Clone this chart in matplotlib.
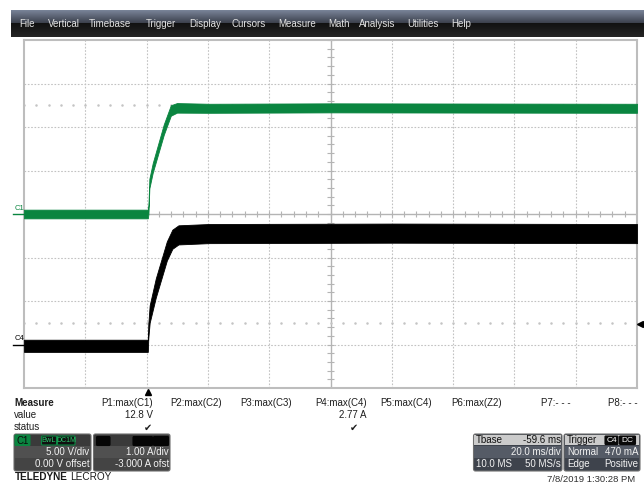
import matplotlib.pyplot as plt
import numpy as np
from matplotlib.patches import Rectangle, FancyBboxPatch

plt.rcParams['font.family'] = ['Liberation Sans', 'DejaVu Sans']

# timebase (ms): trigger at t = 0, screen centre at Tbase delay
t_div = 20.0
t_center = 59.6

# C1: centre of the noisy band (V) and its half width (V)
c1_t = [-40.4, 0.0, 0.2, 0.5, 1.6, 5.2, 7.5, 9.5, 20.0, 60.0, 159.6]
c1_v = [0.0, 0.0, 0.5, 3.5, 5.3, 9.7, 11.9, 12.2, 12.15, 12.2, 12.15]
c1_spread = [0.5, 0.5, 0.5, 0.55, 0.55, 0.6, 0.6, 0.55, 0.52, 0.52, 0.52]
c1_scale = 5.0     # V/div
c1_offset = 0.0    # V

# C4: current band (A) and half width (A)
c4_t = [-40.4, 0.0, 0.15, 0.6, 2.6, 6.2, 8.0, 10.0, 20.0, 80.0, 159.6]
c4_a = [-0.03, -0.03, 0.3, 0.7, 1.3, 2.15, 2.42, 2.52, 2.55, 2.56, 2.55]
c4_spread = [0.14, 0.14, 0.16, 0.2, 0.22, 0.22, 0.22, 0.22, 0.22, 0.22, 0.22]
c4_scale = 1.0     # A/div
c4_offset = -3.0   # A
trig_level = 0.47  # A

menu_items = ['File', 'Vertical', 'Timebase', 'Trigger', 'Display', 'Cursors',
              'Measure', 'Math', 'Analysis', 'Utilities', 'Help']
menu_x = [19, 48, 89, 146, 189, 232, 278, 328, 359, 407, 451]

meas_names = ['P1:max(C1)', 'P2:max(C2)', 'P3:max(C3)', 'P4:max(C4)',
              'P5:max(C4)', 'P6:max(Z2)', 'P7:- - -', 'P8:- - -']
meas_values = ['12.8 V', '', '', '2.77 A', '', '', '', '']
meas_ok = [True, False, False, True, False, False, False, False]
meas_right = [153, 222, 292, 367, 432, 502, 571, 638]
check_x = [148, 0, 0, 354, 0, 0, 0, 0]

W, H = 644, 482
fig = plt.figure(figsize=(W / 100, H / 100), dpi=100)
fig.patch.set_facecolor('white')

GREEN = '#0a8540'

# ---- scope grid ----
ax = fig.add_axes([24 / W, 1 - 388 / H, 613 / W, 348 / H])
ax.set_xlim(t_center - 5 * t_div, t_center + 5 * t_div)
ax.set_ylim(-4, 4)
ax.set_xticks([])
ax.set_yticks([])
for s in ax.spines.values():
    s.set_color('#bdbdbd')
    s.set_linewidth(1.5)

grid_kw = dict(color='#c2c2c2', lw=0.8, ls=(0, (1.5, 1.5)), zorder=1)
for k in range(-4, 5):
    if k != 0:
        ax.axvline(t_center + k * t_div, **grid_kw)
for k in range(-3, 4):
    if k != 0:
        ax.axhline(k, **grid_kw)
ax.axvline(t_center, color='#b4b4b4', lw=1.0, zorder=1)
ax.axhline(0, color='#b4b4b4', lw=1.0, zorder=1)

sub_t = t_center + np.arange(-25, 26) * t_div / 5
sub_y = np.arange(-20, 21) * 0.2
ax.vlines(sub_t, -0.07, 0.07, color='#b4b4b4', lw=0.8, zorder=1)
ax.hlines(sub_y, t_center - 1.0, t_center + 1.0, color='#b4b4b4', lw=0.8, zorder=1)
for yy in (2.5, -2.5):
    ax.plot(sub_t, np.full(len(sub_t), yy), ls='none', marker='s', ms=0.75,
            color='#c4c4c4', zorder=1)

# ---- traces ----
c1_pos = (np.array(c1_v) + c1_offset) / c1_scale
c1_hw = np.array(c1_spread) / c1_scale
ax.fill_between(c1_t, c1_pos - c1_hw, c1_pos + c1_hw, color=GREEN, lw=0.6,
                zorder=3)

c4_pos = (np.array(c4_a) + c4_offset) / c4_scale
c4_hw = np.array(c4_spread) / c4_scale
ax.fill_between(c4_t, c4_pos - c4_hw, c4_pos + c4_hw, color='black', lw=0.6,
                zorder=3)

# trigger markers
ax.plot([0], [-4.1], marker='^', ms=4.5, color='black', clip_on=False, zorder=5)
ax.plot([t_center + 5 * t_div + 0.9], [(trig_level + c4_offset) / c4_scale],
        marker='<', ms=4.5, color='black', clip_on=False, zorder=5)

# ---- overlay in pixel coordinates ----
ov = fig.add_axes([0, 0, 1, 1])
ov.patch.set_alpha(0)

bar = np.zeros((27, 1, 3))
bar[:13, 0, :] = np.linspace([0.47, 0.51, 0.59], [0.24, 0.26, 0.31], 13)
bar[13:, 0, :] = np.linspace([0.07, 0.07, 0.07], [0.14, 0.14, 0.14], 14)
ov.imshow(bar, extent=[11, 644, 37, 10], aspect='auto', interpolation='bilinear')
ov.set_xlim(0, W)
ov.set_ylim(H, 0)
ov.axis('off')

for name, x in zip(menu_items, menu_x):
    ov.text(x, 24, name, color='#e2e2e2', fontsize=7, va='center', ha='left')

# channel labels
ov.text(15, 208, 'C1', color=GREEN, fontsize=5.5, va='center')
ov.plot([13, 24], [214, 214], color=GREEN, lw=1)
ov.text(15, 338.5, 'C4', color='black', fontsize=5.5, va='center')
ov.plot([13, 24], [345, 345], color='black', lw=1)

# measure table
tc = '#1e1e1e'
ov.text(14, 403, 'Measure', fontsize=7, weight='bold', color=tc, va='center')
ov.text(14, 415, 'value', fontsize=7, color=tc, va='center')
ov.text(14, 427.5, 'status', fontsize=7, color=tc, va='center')
for name, val, ok, xr, xc in zip(meas_names, meas_values, meas_ok, meas_right,
                                 check_x):
    ov.text(xr, 403, name, fontsize=7, color=tc, ha='right', va='center')
    if val:
        ov.text(xr, 415, val, fontsize=7, color=tc, ha='right', va='center')
    if ok:
        ov.text(xc, 427.5, '\u2714', fontsize=7, color=tc, ha='center',
                va='center', family=['DejaVu Sans'])


def box(x0, y0, x1, y1, fc, ec=None, r=1.0, lw=0.8, z=2):
    p = FancyBboxPatch((x0, y0), x1 - x0, y1 - y0,
                       boxstyle='round,pad=0,rounding_size=%g' % r,
                       fc=fc, ec=ec if ec else fc, lw=lw, zorder=z)
    ov.add_patch(p)


def rows_dark(x0, x1):
    box(x0, 434, x1, 471, '#3a3a3a', '#707070', r=2)
    ov.add_patch(Rectangle((x0 + 0.8, 446), x1 - x0 - 1.6, 12, fc='#505050',
                           ec='none', zorder=2.5))
    ov.add_patch(Rectangle((x0 + 0.8, 458), x1 - x0 - 1.6, 12, fc='#444444',
                           ec='none', zorder=2.5))


narrow = ['Liberation Sans Narrow', 'Liberation Sans']

# C1 channel box
rows_dark(14, 91)
box(15, 435, 30, 445.5, GREEN, r=0.8, z=3)
ov.text(16.5, 440.5, 'C1', fontsize=7, color='#0c0c0c', va='center', zorder=4)
box(41.5, 436, 56.5, 445, '#101010', GREEN, r=0.8, z=3)
ov.text(49, 440.7, 'BwL', fontsize=5.3, color='#2cc46c', ha='center',
        va='center', zorder=4, family=narrow)
box(57.5, 436, 75, 445, '#101010', GREEN, r=0.8, z=3)
ov.text(66.3, 440.7, 'DC1M', fontsize=5.0, color='#2cc46c', ha='center',
        va='center', zorder=4, family=narrow)
ov.text(89.5, 452, '5.00 V/div', fontsize=7, color='#f2f2f2', ha='right',
        va='center', zorder=4)
ov.text(89.5, 464, '0.00 V offset', fontsize=7, color='#f2f2f2', ha='right',
        va='center', zorder=4)

# C4 channel box
rows_dark(93.5, 170)
box(96.5, 436.5, 110, 445.5, '#050505', r=1, z=3)
box(133, 436.5, 152.5, 445.5, '#050505', r=1, z=3)
box(153.5, 436.5, 168.5, 445.5, '#050505', r=1, z=3)
ov.text(169, 452, '1.00 A/div', fontsize=7, color='#f2f2f2', ha='right',
        va='center', zorder=4)
ov.text(169, 464, '-3.000 A ofst', fontsize=7, color='#f2f2f2', ha='right',
        va='center', zorder=4)

# Tbase box
box(473.5, 434, 562, 471, '#3e434c', '#707070', r=2)
ov.add_patch(Rectangle((474.3, 434.8), 87, 10.5, fc='#cbcbcb', ec='none', zorder=2.5))
ov.add_patch(Rectangle((474.3, 446), 87, 12, fc='#555b66', ec='none', zorder=2.5))
ov.text(476, 440, 'Tbase', fontsize=7, color='#101010', va='center', zorder=4)
ov.text(561, 440, '-59.6 ms', fontsize=7, color='#101010', ha='right',
        va='center', zorder=4)
ov.text(561, 452, '20.0 ms/div', fontsize=7, color='#f2f2f2', ha='right',
        va='center', zorder=4)
ov.text(476, 464, '10.0 MS', fontsize=7, color='#f2f2f2', va='center', zorder=4)
ov.text(561, 464, '50 MS/s', fontsize=7, color='#f2f2f2', ha='right',
        va='center', zorder=4)

# Trigger box
box(564, 434, 640, 471, '#3e434c', '#707070', r=2)
ov.add_patch(Rectangle((564.8, 434.8), 74.4, 10.5, fc='#cbcbcb', ec='none', zorder=2.5))
ov.add_patch(Rectangle((564.8, 446), 74.4, 12, fc='#555b66', ec='none', zorder=2.5))
ov.text(567, 440, 'Trigger', fontsize=7, color='#101010', va='center', zorder=4)
box(605, 436, 618, 444.5, '#0a0a0a', r=0.8, z=3)
ov.text(611.5, 440.3, 'C4', fontsize=6, color='white', ha='center', va='center',
        zorder=4)
box(619.5, 436, 635.5, 444.5, '#0a0a0a', r=0.8, z=3)
ov.text(627.5, 440.3, 'DC', fontsize=6, color='white', ha='center', va='center',
        zorder=4)
ov.text(567, 452, 'Normal', fontsize=7, color='#f2f2f2', va='center', zorder=4)
ov.text(638.5, 452, '470 mA', fontsize=7, color='#f2f2f2', ha='right',
        va='center', zorder=4)
ov.text(567, 464, 'Edge', fontsize=7, color='#f2f2f2', va='center', zorder=4)
ov.text(638.5, 464, 'Positive', fontsize=7, color='#f2f2f2', ha='right',
        va='center', zorder=4)

# footer
ov.text(14.5, 477.5, 'TELEDYNE', fontsize=7.2, weight='bold', color='#1a1a1a',
        va='center')
ov.text(70, 477.5, 'LECROY', fontsize=7.2, color='#1a1a1a', va='center')
ov.text(635, 481.5, '7/8/2019 1:30:28 PM', fontsize=6.8, color='#303030',
        ha='right', va='baseline')

fig.savefig('out.png', dpi=100)
